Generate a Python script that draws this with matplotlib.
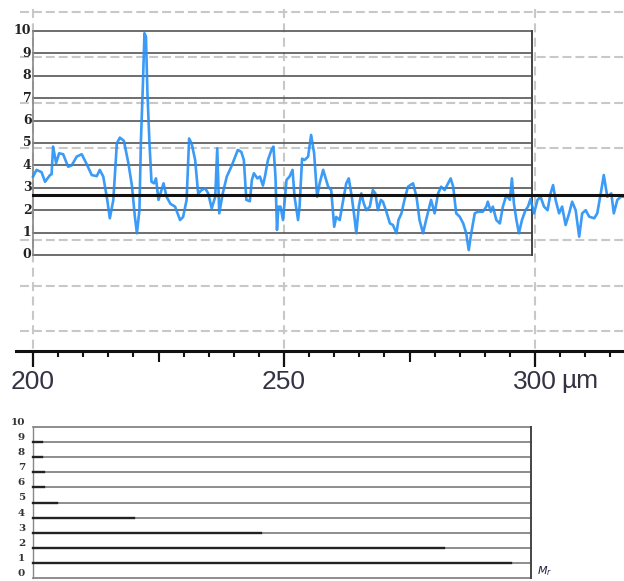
import numpy as np
import matplotlib
matplotlib.use('Agg')
import matplotlib.pyplot as plt

# profilo (posizione in um, valore)
pos = [200.0, 200.7, 201.7, 202.4, 203.4, 203.7, 204.0, 204.6, 205.2, 206.0,
       207.0, 207.7, 208.7, 209.7, 210.6, 211.7, 212.7, 213.3, 214.0, 214.8,
       215.3, 216.0, 216.7, 217.3, 218.1, 219.0, 219.7, 220.3, 220.7, 221.2,
       221.5, 221.9, 222.2, 222.5, 222.8, 223.2, 223.6, 224.1, 224.5, 225.0,
       225.4, 226.0, 226.6, 227.4, 228.3, 229.3, 229.9, 230.6, 231.1, 231.6,
       232.3, 232.9, 233.6, 234.3, 234.9, 235.6, 236.3, 236.7, 237.1, 237.8,
       238.6, 239.5, 240.8, 241.5, 242.0, 242.5, 243.2, 243.6, 244.0, 244.7,
       245.2, 245.8, 246.2, 246.8, 247.5, 247.9, 248.3, 248.6, 248.9, 249.3,
       249.8, 250.5, 251.1, 251.7, 252.1, 252.8, 253.1, 253.6, 254.1, 254.8,
       255.4, 256.0, 256.6, 257.1, 257.8, 258.8, 259.4, 260.0, 260.4, 261.1,
       261.8, 262.4, 262.9, 263.5, 264.1, 264.4, 264.9, 265.4, 265.9, 266.4,
       267.1, 267.7, 268.2, 268.7, 269.3, 269.7, 270.4, 271.1, 271.7, 272.4,
       272.8, 273.4, 274.0, 274.7, 275.7, 276.4, 277.0, 277.7, 278.3, 279.3,
       280.0, 280.7, 281.3, 282.0, 282.7, 283.2, 283.7, 284.3, 285.0, 285.7,
       286.3, 286.8, 287.3, 288.0, 288.6, 289.6, 290.3, 290.6, 291.2, 291.6,
       292.3, 293.0, 293.6, 294.3, 295.0, 295.4, 295.8, 296.3, 296.8, 297.4,
       298.1, 298.6, 299.1, 299.8, 300.5, 301.1, 301.8, 302.5, 303.1, 303.6,
       304.1, 304.8, 305.4, 306.1, 306.8, 307.4, 308.1, 308.8, 309.4, 310.1,
       310.8, 311.8, 312.4, 313.1, 313.7, 314.4, 315.2, 315.7, 316.4, 317.1,
       317.7]
val = [3.5, 3.8, 3.7, 3.27, 3.57, 3.6, 4.84, 4.1, 4.54, 4.5,
       3.94, 4.0, 4.39, 4.5, 4.1, 3.57, 3.52, 3.8, 3.5, 2.45,
       1.64, 2.45, 4.98, 5.24, 5.1, 4.1, 3.1, 1.7, 0.97, 2.0,
       5.1, 7.66, 9.9, 9.75, 7.2, 5.0, 3.27, 3.2, 3.42, 2.46,
       2.75, 3.2, 2.6, 2.28, 2.16, 1.56, 1.7, 2.46, 5.2, 4.98,
       4.24, 2.75, 2.9, 2.98, 2.75, 2.08, 2.6, 4.76, 1.86, 2.75,
       3.5, 3.94, 4.69, 4.6, 4.24, 2.46, 2.4, 3.35, 3.65, 3.42,
       3.5, 3.1, 3.5, 4.24, 4.69, 4.84, 3.5, 1.12, 2.16, 2.16,
       1.56, 3.35, 3.5, 3.8, 2.6, 1.56, 2.16, 4.3, 4.24, 4.39,
       5.36, 4.54, 2.6, 3.2, 3.8, 3.05, 2.9, 1.26, 1.7, 1.56,
       2.46, 3.2, 3.42, 2.6, 1.56, 0.97, 2.16, 2.75, 2.3, 2.0,
       2.16, 2.9, 2.75, 2.0, 2.46, 2.38, 1.93, 1.41, 1.34, 0.97,
       1.56, 1.86, 2.46, 3.05, 3.2, 2.6, 1.56, 0.97, 1.56, 2.46,
       1.86, 2.75, 3.05, 2.9, 3.2, 3.42, 3.05, 1.86, 1.71, 1.41,
       0.97, 0.22, 0.97, 1.86, 1.93, 1.93, 2.16, 2.38, 1.93, 2.16,
       1.56, 1.41, 2.16, 2.68, 2.46, 3.42, 2.3, 1.56, 0.97, 1.56,
       2.0, 2.16, 2.5, 1.86, 2.46, 2.6, 2.16, 2.0, 2.75, 3.12,
       2.46, 1.86, 2.16, 1.34, 1.86, 2.38, 2.0, 0.82, 1.86, 2.0,
       1.71, 1.64, 1.86, 2.75, 3.57, 2.6, 2.75, 1.86, 2.46, 2.6,
       2.6]

livello_medio = 2.7
griglia_tratteggiata = [10.85, 8.82, 6.79, 4.78, 0.67, -1.38, -3.39]
x_principali = [200, 250, 300]
x_etichette = ['200', '250', '300']
livelli = list(range(0, 11))

# grafico inferiore: lunghezza del tratto scuro per livello (%)
livelli_inf = [1, 2, 3, 4, 5, 6, 7, 8, 9]
lunghezze_inf = [96.0, 82.5, 45.8, 20.3, 4.8, 2.2, 2.2, 1.8, 1.8]

W, H = 624, 581
fig = plt.figure(figsize=(W / 100, H / 100), dpi=100)

# ---- grafico superiore ----
ax = fig.add_axes([0, 1 - 400 / H, 1, 400 / H])
ax.set_xlim(200 - 33 / 5.02, 200 + 591 / 5.02)
ax.set_ylim((255 - 400) / 22.4, 255 / 22.4)
asse_y = (255 - 351) / 22.4

for s in ['top', 'left', 'right']:
    ax.spines[s].set_visible(False)
ax.spines['bottom'].set_position(('data', asse_y))
ax.spines['bottom'].set_bounds(196.6, 200 + 591 / 5.02)
ax.spines['bottom'].set_linewidth(2.2)
ax.spines['bottom'].set_color('#111111')
ax.set_yticks([])
ax.set_xticks(x_principali)
ax.set_xticklabels(x_etichette)
ax.set_xticks(np.arange(205, 320, 5), minor=True)
ax.tick_params(axis='x', which='major', direction='out', length=11.5, width=1.6,
               color='#111111', pad=2, labelsize=19, labelcolor='#333344')
ax.tick_params(axis='x', which='minor', direction='out', length=4.3, width=1.5,
               color='#111111')
for lab in ax.get_xticklabels():
    lab.set_fontfamily('Liberation Sans')
ax.vlines([225, 275], asse_y, asse_y - 11 / 22.4, color='#111111', lw=1.5)
ax.text(309.0, asse_y - 30 / 22.4, 'µm', fontsize=19, color='#333344',
        family='Liberation Sans', ha='center', va='center')

# griglia tratteggiata di sfondo
for yv in griglia_tratteggiata:
    ax.plot([197.4, 318], [yv, yv], color='#c8c8c8', lw=1.5, dashes=(4.3, 1.9), zorder=1)
for xv in x_principali:
    ax.plot([xv, xv], [11.0, asse_y], color='#c8c8c8', lw=1.5, dashes=(4.3, 2.6), zorder=1)

# riquadro con linee orizzontali
x_dx = 200 + (532 - 33) / 5.02
for lv in livelli:
    ax.plot([200, x_dx], [lv, lv], color='#555555', lw=1.2, zorder=2)
    ax.text(199.7, lv, str(lv), ha='right', va='center', fontsize=9,
            family='DejaVu Serif', fontweight='bold', color='#222222')
ax.plot([200, 200], [0, 10], color='#888888', lw=1.2, zorder=2)
ax.plot([x_dx, x_dx], [0, 10], color='#444444', lw=1.4, zorder=2)

ax.plot(pos, val, color='#2590f5', lw=1.9, alpha=0.9, zorder=3)
ax.plot([200, 318], [livello_medio, livello_medio], color='#111111', lw=2.2, zorder=4)

# ---- grafico inferiore ----
ax2 = fig.add_axes([33 / W, (H - 578) / H, (531 - 33) / W, (578 - 427) / H])
ax2.set_xlim(0, 100)
ax2.set_ylim(0, 10)
ax2.axis('off')
for lv in livelli:
    ax2.plot([0, 100], [lv, lv], color='#7a7a7a', lw=1.2, clip_on=False)
    ax2.text(-1.6, lv + 0.3, str(lv), ha='right', va='center', fontsize=7.5,
             family='DejaVu Serif', fontweight='bold', color='#333333')
ax2.plot([0, 0], [0, 10], color='#888888', lw=1.0, clip_on=False)
ax2.plot([100, 100], [0, 10], color='#444444', lw=1.4, clip_on=False)
for lv, ln in zip(livelli_inf, lunghezze_inf):
    ax2.plot([0, ln], [lv, lv], color='#222222', lw=1.7, clip_on=False)
ax2.text(101.2, 0.45, '$M_r$', fontsize=8, ha='left', va='center', color='#222244',
         family='DejaVu Serif', style='italic', fontweight='bold')

fig.savefig('out.png', dpi=100)
